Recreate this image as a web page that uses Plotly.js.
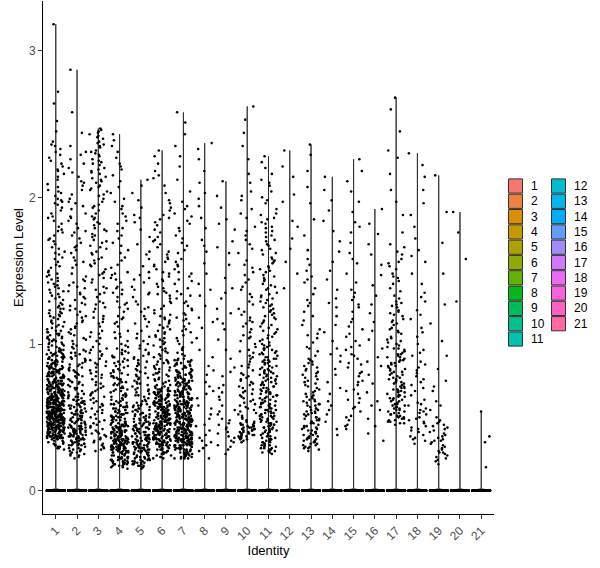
<!DOCTYPE html>
<html>
<head>
<meta charset="utf-8">
<script src="https://cdn.plot.ly/plotly-3.0.1.min.js"></script>
<style>html,body{margin:0;padding:0;background:#fff;}#chart{width:600px;height:568px;}</style>
</head>
<body>
<div id="chart"></div>
<script>
// ---------- DATA ----------
var categories = ["1","2","3","4","5","6","7","8","9","10","11","12","13","14","15","16","17","18","19","20","21"];
var colors = ["#F8766D","#EC823C","#DB8E00","#C49A00","#AEA200","#8FAA00","#64B200","#00B81B","#00BD5C","#00C08B","#00C0AF",
              "#00BDD0","#00B7EB","#00ABFD","#619CFF","#A58AFF","#CF78FF","#EB6AF2","#FA62DB","#FF61C3","#FF68A1"];
// number of cells with zero expression in each identity
var zeroCounts = [700,550,450,550,500,500,550,450,450,400,450,350,400,350,350,350,400,350,350,300,300];

var g1 = [0.28,0.31,0.33,0.29,0.34,0.32,0.30,0.35,0.33,0.31,0.34,0.29,0.32,0.35,0.30,
0.36,0.38,0.41,0.43,0.37,0.40,0.44,0.39,0.42,0.36,0.45,0.38,0.41,0.37,0.43,0.40,0.44,0.39,0.36,0.42,0.38,0.45,0.41,0.37,0.43,0.40,0.39,0.44,0.36,0.42,
0.38,0.41,0.45,0.37,0.43,0.40,0.39,0.44,0.42,0.36,0.38,0.41,0.37,0.43,0.45,0.40,0.39,0.44,0.36,0.42,0.38,0.41,0.37,0.43,0.40,0.45,0.39,0.44,0.42,0.36,
0.38,0.41,0.43,0.37,0.40,0.44,0.39,0.42,0.45,0.38,
0.46,0.48,0.51,0.53,0.47,0.50,0.54,0.49,0.52,0.46,0.55,0.48,0.51,0.47,0.53,0.50,0.54,0.49,0.46,0.52,0.48,0.55,0.51,0.47,0.53,0.50,0.49,0.54,0.46,0.52,
0.48,0.51,0.55,0.47,0.53,0.50,0.49,0.54,0.52,0.46,0.48,0.51,0.47,0.53,0.55,0.50,0.49,0.54,0.46,0.52,0.48,0.51,0.47,0.53,0.50,0.55,0.49,0.54,0.52,0.46,
0.48,0.51,0.53,0.47,0.50,0.54,0.49,0.52,0.55,0.48,0.46,0.51,0.53,0.47,0.50,0.54,0.49,0.52,0.46,0.55,0.48,0.51,0.47,0.53,0.50,0.49,0.54,0.52,0.46,0.55,
0.56,0.58,0.61,0.63,0.57,0.60,0.64,0.59,0.62,0.56,0.65,0.58,0.61,0.57,0.63,0.60,0.64,0.59,0.56,0.62,0.58,0.65,0.61,0.57,0.63,0.60,0.59,0.64,0.56,0.62,
0.58,0.61,0.65,0.57,0.63,0.60,0.59,0.64,0.62,0.56,0.58,0.61,0.57,0.63,0.65,0.60,0.59,0.64,0.56,0.62,0.58,0.61,0.57,0.63,0.60,0.65,0.59,0.64,0.62,0.56,
0.58,0.61,0.63,0.57,0.60,0.64,0.59,0.62,0.65,0.58,0.56,0.61,0.63,0.57,0.60,0.64,0.59,0.62,0.56,0.65,0.58,0.61,0.57,0.63,0.60,
0.66,0.68,0.71,0.73,0.67,0.70,0.74,0.69,0.72,0.66,0.75,0.68,0.71,0.67,0.73,0.70,0.74,0.69,0.66,0.72,0.68,0.75,0.71,0.67,0.73,0.70,0.69,0.74,0.66,0.72,
0.68,0.71,0.75,0.67,0.73,0.70,0.69,0.74,0.72,0.66,0.68,0.71,0.67,0.73,0.75,0.70,0.69,0.74,0.66,0.72,0.68,0.71,0.67,0.73,0.70,0.75,0.69,0.74,0.72,0.66,
0.76,0.78,0.81,0.83,0.77,0.80,0.84,0.79,0.82,0.76,0.85,0.78,0.81,0.77,0.83,0.80,0.84,0.79,0.76,0.82,0.78,0.85,0.81,0.77,0.83,0.80,0.79,0.84,0.76,0.82,
0.78,0.81,0.85,0.77,0.83,0.80,0.79,0.84,0.82,0.76,0.78,0.81,0.77,0.83,0.85,
0.86,0.88,0.91,0.93,0.87,0.90,0.94,0.89,0.92,0.86,0.95,0.88,0.91,0.87,0.93,0.90,0.94,0.89,0.86,0.92,0.88,0.95,0.91,0.87,0.93,0.90,0.89,0.94,0.86,0.92,0.88,0.91,0.95,0.87,0.93,
0.96,0.99,1.02,1.05,0.97,1.01,1.08,0.98,1.04,1.07,1.00,1.03,1.09,0.96,1.06,1.02,0.99,1.10,1.04,0.97,1.01,1.08,1.05,0.98,1.03,1.07,1.00,1.06,1.09,0.96,
1.12,1.15,1.19,1.22,1.26,1.29,1.13,1.17,1.21,1.24,1.28,1.11,1.16,1.20,1.25,1.14,1.18,1.23,1.27,1.30,1.12,1.19,1.24,1.15,1.21,
1.32,1.35,1.39,1.42,1.46,1.49,1.33,1.37,1.41,1.44,1.48,1.31,1.36,1.40,1.45,1.34,1.38,1.43,1.47,1.50,
1.52,1.56,1.61,1.65,1.70,1.74,1.78,1.54,1.59,1.63,1.68,1.72,1.77,1.53,1.58,1.66,1.71,1.76,1.62,1.80,
1.82,1.86,1.91,1.95,1.99,2.03,2.07,1.84,1.89,1.93,1.97,2.01,2.05,2.09,1.87,1.96,2.04,1.98,
2.12,2.16,2.21,2.25,2.29,2.33,2.38,2.14,2.19,2.23,2.27,2.31,2.36,2.18,
2.45,2.52,2.64,2.72,2.35,3.18];

var g2 = [0.22,0.25,0.27,0.29,0.24,0.26,0.28,0.23,0.30,0.25,0.27,0.29,0.24,0.26,0.28,
0.31,0.33,0.36,0.38,0.41,0.43,0.32,0.35,0.37,0.40,0.42,0.44,0.34,0.39,0.45,0.31,0.36,0.41,0.33,0.38,0.43,0.35,0.40,0.32,0.37,0.42,0.34,0.39,0.44,0.36,
0.31,0.38,0.41,0.33,0.43,0.35,0.40,0.37,0.42,0.32,0.44,0.39,0.34,0.36,0.45,0.41,0.33,0.38,0.43,0.35,0.40,0.37,0.31,0.42,0.39,0.34,0.44,0.36,0.32,0.41,
0.46,0.49,0.52,0.55,0.58,0.61,0.64,0.47,0.50,0.53,0.56,0.59,0.62,0.48,0.51,0.54,0.57,0.60,0.63,0.65,0.46,0.52,0.58,0.49,0.55,0.61,0.47,0.53,0.59,0.64,
0.50,0.56,0.62,0.48,0.54,0.60,0.51,0.57,0.63,0.46,0.53,0.59,0.49,0.55,0.61,0.47,0.52,0.58,0.64,0.50,0.56,0.62,0.54,0.48,0.60,
0.66,0.70,0.74,0.78,0.82,0.86,0.90,0.94,0.98,0.68,0.72,0.76,0.80,0.84,0.88,0.92,0.96,1.00,0.67,0.71,0.75,0.79,0.83,0.87,0.91,0.95,0.99,0.69,0.73,0.77,
0.81,0.85,0.89,0.93,0.97,0.66,0.74,0.82,0.90,0.70,0.78,0.86,0.94,0.72,0.84,
1.02,1.06,1.10,1.14,1.18,1.22,1.26,1.30,1.34,1.38,1.42,1.46,1.04,1.08,1.12,1.16,1.20,1.24,1.28,1.32,1.36,1.40,1.44,1.48,1.03,1.11,1.19,1.27,1.35,1.43,1.07,1.15,1.23,1.31,1.39,
1.52,1.57,1.62,1.67,1.72,1.77,1.82,1.87,1.92,1.97,1.54,1.59,1.64,1.69,1.74,1.79,1.84,1.89,1.94,1.99,1.56,1.66,1.76,1.86,1.96,
2.02,2.08,2.14,2.20,2.26,2.31,2.05,2.11,2.17,2.23,2.29,2.35,2.44,2.58,2.10,2.87];

var g3 = [0.27,0.30,0.33,0.36,0.39,0.42,0.45,0.48,0.29,0.32,0.35,0.38,0.41,0.44,0.47,0.50,0.31,0.37,0.43,0.49,0.34,0.40,0.46,0.28,0.39,
0.52,0.56,0.60,0.64,0.68,0.72,0.76,0.80,0.84,0.88,0.92,0.96,1.00,0.54,0.58,0.62,0.66,0.70,0.74,0.78,0.82,0.86,0.90,0.94,0.98,0.53,0.61,0.69,0.77,0.85,0.93,0.57,0.65,0.73,0.81,0.89,0.97,0.55,0.63,0.71,0.79,0.87,0.95,0.59,0.67,
1.02,1.07,1.12,1.17,1.22,1.27,1.32,1.37,1.42,1.47,1.04,1.09,1.14,1.19,1.24,1.29,1.34,1.39,1.44,1.49,1.05,1.15,1.25,1.35,1.45,1.08,1.18,1.28,1.38,1.48,
1.51,1.55,1.59,1.63,1.67,1.71,1.75,1.79,1.83,1.87,1.91,1.95,1.99,1.53,1.57,1.61,1.65,1.69,1.73,1.77,1.81,1.85,1.89,1.93,1.97,1.54,1.62,1.70,1.78,1.86,1.94,1.58,1.66,1.74,1.82,
2.01,2.04,2.07,2.10,2.13,2.16,2.19,2.22,2.25,2.28,2.31,2.34,2.37,2.40,2.43,2.46,2.02,2.05,2.08,2.11,2.14,2.17,2.20,2.23,2.26,2.29,2.32,2.35,2.38,2.41,2.44,2.47,2.06,2.12,2.18,2.24,2.30,2.36,2.42,2.45];

var g4 = [0.15,0.17,0.19,0.21,0.23,0.25,0.16,0.18,0.20,0.22,0.24,0.17,0.19,0.21,0.23,0.18,0.20,0.22,0.24,0.16,0.25,0.19,0.21,0.23,0.18,0.20,0.22,0.17,0.24,0.19,0.21,0.23,0.20,0.22,0.18,
0.26,0.28,0.30,0.32,0.34,0.27,0.29,0.31,0.33,0.35,0.26,0.29,0.32,0.35,0.27,0.30,0.33,0.28,0.31,0.34,0.26,0.30,0.34,0.27,0.31,0.35,0.28,0.32,0.29,0.33,
0.26,0.28,0.30,0.32,0.34,0.27,0.29,0.31,0.33,0.35,0.26,0.29,0.32,0.35,0.27,0.30,0.33,0.28,0.31,0.34,0.26,0.30,0.34,0.27,0.31,0.35,0.28,0.32,0.29,0.33,0.30,0.27,0.32,0.28,0.34,
0.36,0.38,0.40,0.42,0.44,0.37,0.39,0.41,0.43,0.45,0.36,0.39,0.42,0.45,0.37,0.40,0.43,0.38,0.41,0.44,0.36,0.40,0.44,0.37,0.41,0.45,0.38,0.42,0.39,0.43,
0.36,0.38,0.40,0.42,0.44,0.37,0.39,0.41,0.43,0.45,0.36,0.39,0.42,0.45,0.37,0.40,0.43,0.38,0.41,0.44,0.36,0.40,0.44,0.37,0.41,
0.46,0.49,0.52,0.55,0.58,0.47,0.50,0.53,0.56,0.59,0.48,0.51,0.54,0.57,0.60,0.46,0.50,0.54,0.58,0.47,0.51,0.55,0.59,0.48,0.52,0.56,0.49,0.53,0.57,0.46,0.49,0.52,0.55,0.58,0.47,0.50,0.53,0.56,0.59,0.48,0.51,0.54,0.57,0.60,0.50,
0.61,0.64,0.67,0.70,0.73,0.76,0.79,0.62,0.65,0.68,0.71,0.74,0.77,0.80,0.63,0.66,0.69,0.72,0.75,0.78,0.61,0.65,0.69,0.73,0.77,0.62,0.66,0.70,0.74,0.78,0.64,0.68,0.72,0.76,0.80,
0.81,0.84,0.87,0.90,0.93,0.96,0.99,0.82,0.85,0.88,0.91,0.94,0.97,1.00,0.83,0.86,0.89,0.92,0.95,0.98,0.82,0.88,0.94,0.85,0.91,
1.02,1.07,1.12,1.17,1.22,1.27,1.32,1.37,1.42,1.47,1.04,1.09,1.14,1.19,1.24,1.29,1.34,1.39,1.44,1.49,1.05,1.15,1.25,1.35,1.45,1.08,1.18,1.28,1.38,1.48,
1.52,1.57,1.62,1.67,1.72,1.77,1.82,1.87,1.92,1.97,1.54,1.59,1.64,1.69,1.74,1.79,1.84,1.89,1.94,1.99,
2.03,2.07,2.11,2.15,2.19,2.23,2.27,2.31,2.35,2.39,2.43,2.21];

var g5 = [0.15,0.17,0.19,0.21,0.23,0.25,0.16,0.18,0.20,0.22,0.24,0.17,0.19,0.21,0.23,0.18,0.20,0.22,0.24,0.16,0.25,0.19,0.21,0.23,0.18,0.20,0.22,0.17,0.24,0.19,
0.26,0.28,0.30,0.32,0.34,0.27,0.29,0.31,0.33,0.35,0.26,0.29,0.32,0.35,0.27,0.30,0.33,0.28,0.31,0.34,0.26,0.30,0.34,0.27,0.31,0.35,0.28,0.32,0.29,0.33,0.26,0.28,0.30,0.32,0.34,0.27,0.29,0.31,0.33,0.35,
0.36,0.38,0.40,0.42,0.44,0.37,0.39,0.41,0.43,0.45,0.36,0.39,0.42,0.45,0.37,0.40,0.43,0.38,0.41,0.44,0.36,0.40,0.44,0.37,0.41,0.45,0.38,0.42,0.39,0.43,0.36,0.38,0.40,0.42,0.44,
0.46,0.49,0.52,0.55,0.58,0.47,0.50,0.53,0.56,0.59,0.48,0.51,0.54,0.57,0.60,0.46,0.50,0.54,0.58,0.47,0.51,0.55,0.59,0.48,0.52,0.56,0.49,0.53,0.57,0.46,0.49,0.52,0.55,0.58,0.47,
0.61,0.64,0.67,0.70,0.73,0.76,0.79,0.62,0.65,0.68,0.71,0.74,0.77,0.80,0.63,0.66,0.69,0.72,0.75,0.78,0.61,0.65,0.69,0.73,0.77,
0.81,0.84,0.87,0.90,0.93,0.96,0.99,0.82,0.85,0.88,0.91,0.94,0.97,1.00,0.83,0.86,0.89,0.92,
1.02,1.07,1.12,1.17,1.22,1.27,1.32,1.37,1.42,1.47,1.04,1.09,1.14,1.19,1.24,1.29,1.34,1.39,1.44,1.49,1.05,1.15,1.25,1.35,1.45,
1.53,1.58,1.63,1.68,1.73,1.78,1.83,1.88,1.93,1.98,2.03,2.08,2.12,1.61,1.86];

var g6 = [0.22,0.24,0.26,0.28,0.30,0.23,0.25,0.27,0.29,0.22,0.26,0.30,0.24,0.28,0.23,0.27,0.25,0.29,0.26,0.28,
0.31,0.33,0.35,0.37,0.39,0.32,0.34,0.36,0.38,0.40,0.31,0.34,0.37,0.40,0.32,0.35,0.38,0.33,0.36,0.39,0.31,0.35,0.39,0.32,0.36,0.40,0.33,0.37,0.34,0.38,0.31,0.33,0.35,0.37,0.39,0.32,0.34,0.36,0.38,0.40,0.31,0.34,0.37,0.40,0.32,0.35,0.38,0.33,0.36,0.39,0.31,0.35,0.39,0.32,0.36,
0.41,0.43,0.45,0.47,0.49,0.42,0.44,0.46,0.48,0.50,0.41,0.44,0.47,0.50,0.42,0.45,0.48,0.43,0.46,0.49,0.41,0.45,0.49,0.42,0.46,0.50,0.43,0.47,0.44,0.48,0.41,0.43,0.45,0.47,0.49,0.42,0.44,0.46,0.48,0.50,0.41,0.44,0.47,0.50,0.42,0.45,0.48,0.43,0.46,0.49,0.41,0.45,0.49,0.42,0.46,
0.51,0.53,0.55,0.57,0.59,0.52,0.54,0.56,0.58,0.60,0.51,0.54,0.57,0.60,0.52,0.55,0.58,0.53,0.56,0.59,0.51,0.55,0.59,0.52,0.56,0.60,0.53,0.57,0.54,0.58,0.51,0.53,0.55,0.57,0.59,0.52,0.54,0.56,0.58,0.60,0.51,0.54,0.57,0.60,0.52,
0.61,0.63,0.65,0.67,0.69,0.62,0.64,0.66,0.68,0.70,0.61,0.64,0.67,0.70,0.62,0.65,0.68,0.63,0.66,0.69,0.61,0.65,0.69,0.62,0.66,0.70,0.63,0.67,0.64,0.68,0.61,0.63,0.65,0.67,0.69,
0.71,0.74,0.77,0.80,0.83,0.86,0.89,0.72,0.75,0.78,0.81,0.84,0.87,0.90,0.73,0.76,0.79,0.82,0.85,0.88,0.71,0.75,0.79,0.83,0.87,0.72,0.76,0.80,0.84,0.88,
0.91,0.95,0.99,1.03,1.07,1.11,1.15,1.19,0.92,0.96,1.00,1.04,1.08,1.12,1.16,1.20,0.93,0.97,1.01,1.05,1.09,1.13,1.17,0.94,0.98,1.02,1.06,1.10,1.14,1.18,
1.21,1.26,1.31,1.36,1.41,1.46,1.51,1.56,1.23,1.28,1.33,1.38,1.43,1.48,1.53,1.58,1.24,1.29,1.34,1.39,1.44,1.49,1.54,1.59,1.35,
1.61,1.66,1.71,1.76,1.81,1.86,1.91,1.96,1.63,1.68,1.73,1.78,1.83,1.88,1.93,1.98,1.70,1.85,
2.03,2.08,2.13,2.18,2.23,2.28,2.32,2.15];

var g7 = [0.22,0.24,0.26,0.28,0.30,0.23,0.25,0.27,0.29,0.22,0.26,0.30,0.24,0.28,0.23,0.27,0.25,0.29,0.26,0.28,0.22,0.24,0.26,0.28,0.30,0.23,0.25,0.27,0.29,0.22,0.26,0.30,0.24,0.28,0.25,
0.31,0.33,0.35,0.37,0.39,0.32,0.34,0.36,0.38,0.40,0.31,0.34,0.37,0.40,0.32,0.35,0.38,0.33,0.36,0.39,0.31,0.35,0.39,0.32,0.36,0.40,0.33,0.37,0.34,0.38,0.31,0.33,0.35,0.37,0.39,0.32,0.34,0.36,0.38,0.40,0.31,0.34,0.37,0.40,0.32,0.35,0.38,0.33,0.36,0.39,0.31,0.35,0.39,0.32,0.36,
0.31,0.33,0.35,0.37,0.39,0.32,0.34,0.36,0.38,0.40,0.33,0.35,0.37,0.39,0.34,
0.41,0.43,0.45,0.47,0.49,0.42,0.44,0.46,0.48,0.50,0.41,0.44,0.47,0.50,0.42,0.45,0.48,0.43,0.46,0.49,0.41,0.45,0.49,0.42,0.46,0.50,0.43,0.47,0.44,0.48,0.41,0.43,0.45,0.47,0.49,0.42,0.44,0.46,0.48,0.50,0.41,0.44,0.47,0.50,0.42,0.45,0.48,0.43,0.46,0.49,0.41,0.45,0.49,0.42,0.46,0.41,0.43,0.45,0.47,0.49,
0.51,0.53,0.55,0.57,0.59,0.52,0.54,0.56,0.58,0.60,0.51,0.54,0.57,0.60,0.52,0.55,0.58,0.53,0.56,0.59,0.51,0.55,0.59,0.52,0.56,0.60,0.53,0.57,0.54,0.58,0.51,0.53,0.55,0.57,0.59,0.52,0.54,0.56,0.58,0.60,0.51,0.54,0.57,0.60,0.52,0.51,0.53,0.55,0.57,0.59,0.52,0.54,0.56,0.58,0.60,
0.61,0.63,0.65,0.67,0.69,0.62,0.64,0.66,0.68,0.70,0.61,0.64,0.67,0.70,0.62,0.65,0.68,0.63,0.66,0.69,0.61,0.65,0.69,0.62,0.66,0.70,0.63,0.67,0.64,0.68,0.61,0.63,0.65,0.67,0.69,0.62,0.64,0.66,0.68,0.70,
0.71,0.73,0.75,0.77,0.79,0.72,0.74,0.76,0.78,0.80,0.71,0.74,0.77,0.80,0.72,0.75,0.78,0.73,0.76,0.79,0.71,0.75,0.79,0.72,0.76,0.80,0.73,0.77,0.74,0.78,0.71,0.73,0.75,0.77,0.79,
0.81,0.83,0.85,0.87,0.89,0.82,0.84,0.86,0.88,0.90,0.81,0.84,0.87,0.90,0.82,0.85,0.88,0.83,0.86,0.89,0.81,0.85,0.89,0.82,0.86,
0.92,0.96,1.00,1.04,1.08,1.12,1.16,1.20,0.94,0.98,1.02,1.06,1.10,1.14,1.18,0.93,1.01,1.09,1.17,0.97,
1.21,1.26,1.31,1.36,1.41,1.46,1.51,1.56,1.23,1.28,1.33,1.38,1.43,1.48,1.53,1.58,1.24,1.34,1.44,1.54,1.29,1.49,
1.62,1.67,1.72,1.77,1.82,1.87,1.92,1.97,1.64,1.69,1.74,1.79,1.84,1.89,1.94,
2.04,2.12,2.21,2.28,2.35,2.43,2.51,2.58];

var g8 = [0.22,0.27,0.31,0.34,0.38,0.41,0.45,0.49,0.52,0.56,0.33,0.36,0.44,0.58,0.29,
0.63,0.68,0.74,0.79,0.85,0.91,0.96,0.66,0.82,0.71,
1.04,1.11,1.18,1.26,1.33,1.41,1.48,1.15,1.37,
1.55,1.63,1.71,1.79,1.86,1.94,1.67,1.99,
2.03,2.10,2.18,2.26,2.33,2.37];

var g9 = [0.25,0.28,0.31,0.34,0.37,0.40,0.43,0.46,0.49,0.52,0.55,0.58,0.30,0.36,0.42,0.48,0.54,0.33,0.45,0.39,
0.62,0.67,0.72,0.78,0.84,0.90,0.96,0.70,0.81,0.64,
1.03,1.10,1.17,1.24,1.31,1.38,1.45,1.14,1.35,1.21,
1.54,1.62,1.70,1.78,1.85,1.93,2.01,2.11,1.66,1.82];

var g10 = [0.33,0.35,0.37,0.39,0.41,0.43,0.45,0.47,0.49,0.34,0.36,0.38,0.40,0.42,0.44,0.46,0.48,0.50,0.35,0.37,0.39,0.41,0.43,0.45,0.36,0.38,0.40,0.42,0.44,0.46,0.37,0.41,0.45,0.39,0.43,0.38,0.42,0.40,0.44,0.47,
0.51,0.54,0.57,0.60,0.63,0.66,0.69,0.72,0.75,0.78,0.52,0.55,0.58,0.61,0.64,0.67,0.70,0.73,0.76,0.79,0.53,0.56,0.59,0.62,0.65,0.68,0.71,0.74,0.77,0.80,
0.82,0.86,0.90,0.94,0.98,1.02,1.06,1.10,1.14,1.18,0.84,0.88,0.92,0.96,1.00,1.04,1.08,1.12,1.16,1.20,0.85,0.95,1.05,1.15,0.91,
1.22,1.27,1.32,1.37,1.42,1.47,1.52,1.57,1.24,1.29,1.34,1.39,1.44,1.49,1.54,
1.62,1.68,1.74,1.80,1.86,1.92,1.98,2.04,2.10,1.65,1.77,1.89,2.01,2.16,1.71,
2.26,2.35,2.44,2.53,2.62];

var g11 = [0.25,0.27,0.29,0.31,0.33,0.35,0.37,0.39,0.26,0.28,0.30,0.32,0.34,0.36,0.38,0.40,0.27,0.29,0.31,0.33,0.35,0.37,0.39,0.26,0.30,0.34,0.38,0.28,0.32,0.36,0.40,0.31,0.35,0.29,0.33,
0.41,0.43,0.45,0.47,0.49,0.51,0.53,0.55,0.57,0.59,0.42,0.44,0.46,0.48,0.50,0.52,0.54,0.56,0.58,0.60,0.41,0.44,0.47,0.50,0.53,0.56,0.59,0.42,0.45,0.48,0.51,0.54,0.57,0.60,0.43,0.46,0.49,0.52,0.55,0.58,0.41,0.45,0.49,0.53,0.57,0.43,0.47,0.51,0.55,0.59,
0.61,0.63,0.65,0.67,0.69,0.71,0.73,0.75,0.77,0.79,0.62,0.64,0.66,0.68,0.70,0.72,0.74,0.76,0.78,0.80,0.61,0.64,0.67,0.70,0.73,0.76,0.79,0.62,0.65,0.68,0.71,0.74,0.77,0.80,0.63,0.66,0.69,0.72,0.75,0.78,
0.81,0.83,0.85,0.87,0.89,0.91,0.93,0.95,0.97,0.99,0.82,0.84,0.86,0.88,0.90,0.92,0.94,0.96,0.98,1.00,0.81,0.84,0.87,0.90,0.93,0.96,0.99,0.82,0.85,0.88,0.91,0.94,0.97,0.83,0.89,
1.01,1.04,1.07,1.10,1.13,1.16,1.19,1.22,1.25,1.28,1.02,1.05,1.08,1.11,1.14,1.17,1.20,1.23,1.26,1.29,1.03,1.06,1.09,1.12,1.15,1.18,1.21,1.24,1.27,1.30,
1.31,1.34,1.37,1.40,1.43,1.46,1.49,1.52,1.55,1.58,1.32,1.35,1.38,1.41,1.44,1.47,1.50,1.53,1.56,1.59,1.33,1.39,1.45,1.51,1.57,
1.61,1.64,1.67,1.70,1.73,1.76,1.79,1.82,1.85,1.88,1.62,1.65,1.68,1.71,1.74,1.77,1.80,1.83,1.86,1.89,
1.92,1.96,2.00,2.04,2.08,2.12,2.16,2.20,2.24,2.28,1.98,2.10];

var g12 = [2.32,2.21,2.14,2.02,1.97,1.84,1.80,1.72,1.65,1.56,1.48,1.38];

var g13 = [0.27,0.29,0.31,0.33,0.35,0.37,0.39,0.41,0.43,0.45,0.28,0.30,0.32,0.34,0.36,0.38,0.40,0.42,0.44,0.29,0.31,0.33,0.35,0.37,0.39,0.41,0.43,0.30,0.34,0.38,0.42,0.32,0.36,0.40,0.44,
0.46,0.48,0.50,0.52,0.54,0.56,0.58,0.60,0.62,0.64,0.47,0.49,0.51,0.53,0.55,0.57,0.59,0.61,0.63,0.65,0.46,0.49,0.52,0.55,0.58,0.61,0.64,0.47,0.50,0.53,0.56,0.59,0.62,0.48,0.54,
0.66,0.69,0.72,0.75,0.78,0.81,0.84,0.87,0.90,0.67,0.70,0.73,0.76,0.79,0.82,0.85,0.88,0.68,0.71,0.74,0.77,0.80,0.83,0.86,0.89,
0.92,0.95,0.98,1.01,1.04,1.07,1.10,1.13,1.16,1.19,0.97,1.06,
1.22,1.26,1.30,1.34,1.38,1.42,1.46,1.50,1.54,1.58,1.28,1.44,
1.64,1.74,1.85,1.96,2.07,2.18,2.29,2.36];

var g14 = [0.38,0.42,0.47,0.52,0.55,0.61,0.66,0.70,0.74,0.79,0.83,0.88,0.93,0.97,1.02,1.08,1.13,1.19,1.25,1.31,1.37,1.44,1.50,1.56,1.63,1.70,1.77,1.84,1.91,1.98,2.05,2.14,0.58,0.92,1.28];

var g15 = [0.42,0.45,0.48,0.51,0.54,0.57,0.60,0.63,0.66,0.69,0.72,0.75,0.78,0.81,0.84,0.87,0.90,0.93,0.96,0.99,0.44,0.50,0.56,0.62,0.68,0.74,0.80,0.86,0.92,0.98,
1.02,1.07,1.12,1.17,1.22,1.27,1.32,1.37,1.42,1.05,1.15,1.25,1.35,1.10,1.30,
1.48,1.55,1.62,1.69,1.76,1.83,1.90,1.97,2.04,2.11,2.18,2.26,1.58,1.80];

var g16 = [0.34,0.39,0.44,0.49,0.55,0.61,0.67,0.73,0.79,0.85,0.91,0.97,1.03,1.09,1.15,1.21,1.27,1.33,1.40,1.47,1.54,1.61,1.68,1.75,1.82,1.92,0.58,0.88];

var g17 = [0.45,0.46,0.47,0.48,0.49,0.50,0.51,0.52,0.53,0.54,0.55,0.56,0.57,0.58,0.59,0.60,0.46,0.48,0.50,0.52,0.54,0.56,0.58,0.47,0.51,0.55,0.59,0.49,0.53,0.57,
0.61,0.63,0.65,0.67,0.69,0.71,0.73,0.75,0.77,0.79,0.62,0.64,0.66,0.68,0.70,0.72,0.74,0.76,0.78,0.80,0.61,0.64,0.67,0.70,0.73,0.76,0.79,0.62,0.65,0.68,0.71,0.74,0.77,0.63,0.69,
0.81,0.83,0.85,0.87,0.89,0.91,0.93,0.95,0.97,0.99,0.82,0.84,0.86,0.88,0.90,0.92,0.94,0.96,0.98,1.00,0.81,0.85,0.89,0.93,0.97,0.83,0.87,0.91,
1.01,1.04,1.07,1.10,1.13,1.16,1.19,1.22,1.25,1.28,1.02,1.05,1.08,1.11,1.14,1.17,1.20,1.23,1.26,1.29,1.03,1.09,1.15,1.21,1.27,
1.31,1.36,1.41,1.46,1.51,1.56,1.61,1.66,1.33,1.38,1.43,1.48,1.53,1.58,1.63,1.68,1.45,1.55,
1.76,1.88,1.97,2.05,2.16,2.27,2.32,2.45,2.60,2.68];

var g18 = [0.32,0.35,0.38,0.41,0.44,0.47,0.50,0.53,0.56,0.59,0.62,0.65,0.34,0.37,0.40,0.43,0.46,0.49,0.52,0.55,0.58,0.36,0.42,0.48,0.54,0.60,
0.68,0.72,0.76,0.80,0.84,0.88,0.92,0.96,1.00,0.70,0.78,0.86,0.94,0.74,0.82,
1.05,1.11,1.17,1.23,1.29,1.35,1.41,1.08,1.20,1.32,
1.48,1.56,1.64,1.72,1.80,1.88,1.96,2.05,2.14,2.22,2.30,1.60];

var g19 = [0.18,0.20,0.22,0.24,0.26,0.28,0.30,0.32,0.34,0.36,0.38,0.40,0.42,0.44,0.46,0.48,0.50,0.21,0.25,0.29,0.33,0.37,0.41,0.45,0.23,0.27,0.31,0.35,0.39,0.43,0.47,0.26,0.34,
0.55,0.61,0.68,0.75,0.83,0.92,1.02,1.14,1.27,0.58,0.71,
1.48,1.69,1.90,2.15];

var g20 = [1.90,1.76,1.58,1.29];
var g21 = [0.54,0.37,0.33,0.16];

var expression = [g1,g2,g3,g4,g5,g6,g7,g8,g9,g10,g11,g12,g13,g14,g15,g16,g17,g18,g19,g20,g21];
var yTicks = [0,1,2,3];

// ---------- BUILD ----------
// deterministic jitter (like geom_jitter) for horizontal point placement
function jit(g, k) {
  var s = Math.sin((k + 1) * 12.9898 + (g + 1) * 78.233) * 43758.5453;
  return s - Math.floor(s);
}

var traces = [];
var px = [], py = [];
var allMax = 0;
categories.forEach(function (c, i) {
  var vals = new Array(zeroCounts[i]).fill(0).concat(expression[i]);
  vals.forEach(function (v) { if (v > allMax) allMax = v; });
  traces.push({
    type: 'violin', name: c, x0: i + 1, y: vals, width: 0.9,
    bandwidth: 0.006, spanmode: 'hard', scalemode: 'width',
    points: false, box: {visible: false}, meanline: {visible: false},
    fillcolor: colors[i], line: {color: '#000000', width: 0.8},
    hoverinfo: 'skip', showlegend: false
  });
  vals.forEach(function (v, k) {
    px.push(i + 1 + (jit(i, k) - 0.5) * 0.84);
    py.push(v);
  });
});
traces.push({
  type: 'scatter', mode: 'markers', x: px, y: py,
  marker: {size: 2.6, color: '#000000', line: {width: 0}},
  hoverinfo: 'skip', showlegend: false
});

var pad = allMax * 0.05;

// legend built from categories/colors (two columns like ggplot)
var L = 43, T = 1, W = 451, H = 513;
function xp(p) { return (p - L) / W; }
function yp(p) { return (T + H - p) / H; }
var shapes = [], annotations = [];
var perCol = 11;
categories.forEach(function (c, i) {
  var col = Math.floor(i / perCol), row = i % perCol;
  var cy = 186 + 15.3 * row;
  var x0 = col === 0 ? 508.5 : 551.5;
  shapes.push({type: 'rect', xref: 'paper', yref: 'paper',
    x0: xp(x0), x1: xp(x0 + 14), y0: yp(cy + 7.1), y1: yp(cy - 7.1),
    fillcolor: colors[i], line: {color: '#333333', width: 1}, layer: 'above'});
  annotations.push({xref: 'paper', yref: 'paper', x: xp(x0 + 20.5), y: yp(cy),
    xanchor: 'left', yanchor: 'middle', text: c, showarrow: false,
    font: {size: 12, color: '#000000'}});
});

var layout = {
  width: 600, height: 568,
  margin: {l: L, r: 600 - L - W, t: T, b: 568 - T - H, pad: 0},
  paper_bgcolor: '#ffffff', plot_bgcolor: '#ffffff',
  font: {family: 'Liberation Sans, Arial, sans-serif', size: 12, color: '#000'},
  showlegend: false,
  violinmode: 'overlay', violingap: 0,
  xaxis: {
    range: [0.4, categories.length + 0.6], tickmode: 'array',
    tickvals: categories.map(function (c, i) { return i + 1; }), ticktext: categories,
    tickangle: -45, ticks: 'outside', ticklen: 4, tickwidth: 1, tickcolor: '#333333',
    showline: true, linecolor: '#000000', linewidth: 1, showgrid: false, zeroline: false,
    tickfont: {size: 12, color: '#4D4D4D'},
    title: {text: 'Identity', font: {size: 13, color: '#000'}, standoff: 2},
    automargin: false
  },
  yaxis: {
    range: [-pad, allMax + pad], tickmode: 'array', tickvals: yTicks,
    ticks: 'outside', ticklen: 4, tickwidth: 1, tickcolor: '#333333',
    showline: true, linecolor: '#000000', linewidth: 1, showgrid: false, zeroline: false,
    tickfont: {size: 12, color: '#4D4D4D'},
    title: {text: 'Expression Level', font: {size: 13, color: '#000'}, standoff: 2},
    automargin: false
  },
  shapes: shapes, annotations: annotations
};

Plotly.newPlot('chart', traces, layout, {staticPlot: true, displayModeBar: false});
</script>
</body>
</html>
